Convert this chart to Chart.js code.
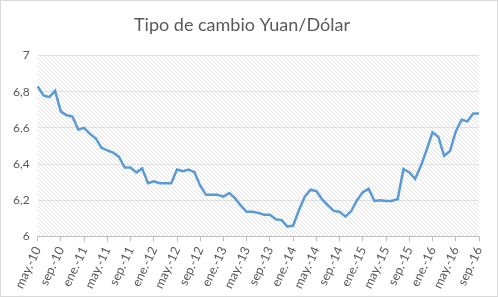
<!DOCTYPE html>
<html>
<head>
<meta charset="utf-8">
<script src="https://cdn.jsdelivr.net/npm/chart.js@4.4.1/dist/chart.umd.min.js"></script>
<style>
  html, body { margin: 0; padding: 0; background: #fff; }
  #wrap { position: relative; width: 496px; height: 295px; border: 1px solid #d9d9d9; }
</style>
</head>
<body>
<div id="wrap"><canvas id="grafico"></canvas></div>
<script>
// datos mensuales, may-10 a sep-16
var MESES = ['ene', 'feb', 'mar', 'abr', 'may', 'jun', 'jul', 'ago', 'sep', 'oct', 'nov', 'dic'];
var INICIO = { mes: 4, anio: 10 };   // may.-10
var TITULO = 'Tipo de cambio Yuan/Dólar';

var TIPO_CAMBIO = [
  6.83, 6.78, 6.77, 6.805, 6.69, 6.67, 6.663, 6.59, 6.60, 6.567, 6.542, 6.49,
  6.476, 6.463, 6.44, 6.381, 6.381, 6.354, 6.376, 6.294, 6.305, 6.294, 6.294, 6.294,
  6.37, 6.36, 6.37, 6.355, 6.28, 6.23, 6.23, 6.23, 6.22, 6.24, 6.21, 6.17,
  6.136, 6.136, 6.13, 6.12, 6.12, 6.095, 6.09, 6.054, 6.06, 6.145, 6.22, 6.258,
  6.25, 6.205, 6.172, 6.141, 6.136, 6.109, 6.14, 6.20, 6.245, 6.263, 6.196, 6.20,
  6.196, 6.196, 6.207, 6.373, 6.354, 6.318, 6.39, 6.48, 6.576, 6.55, 6.445, 6.472,
  6.58, 6.645, 6.636, 6.68, 6.68
];

var Y_MIN = 6;
var Y_MAX = 7;
var Y_PASO = 0.2;

var etiquetas = [];
for (var i = 0; i < TIPO_CAMBIO.length; i++) {
  var m = (INICIO.mes + i) % 12;
  var a = INICIO.anio + Math.floor((INICIO.mes + i) / 12);
  etiquetas.push(MESES[m] + '.-' + a);
}

// fondo rayado del area de trazado
function patronRayado(ctx) {
  var c = document.createElement('canvas');
  c.width = 4; c.height = 4;
  var p = c.getContext('2d');
  p.strokeStyle = '#e2e2e2';
  p.lineWidth = 1;
  p.beginPath();
  p.moveTo(0, 0); p.lineTo(4, 4);
  p.moveTo(-1, 3); p.lineTo(1, 5);
  p.moveTo(3, -1); p.lineTo(5, 1);
  p.stroke();
  return ctx.createPattern(c, 'repeat');
}

var fondo = {
  id: 'fondo',
  beforeDraw: function(chart) {
    var a = chart.chartArea;
    var ctx = chart.ctx;
    ctx.save();
    ctx.fillStyle = patronRayado(ctx);
    ctx.fillRect(a.left, a.top, a.right - a.left, a.bottom - a.top);
    ctx.restore();
  }
};

var gris = '#595959';

var grafico = new Chart(document.getElementById('grafico').getContext('2d'), {
  type: 'line',
  data: {
    labels: etiquetas,
    datasets: [{
      label: 'Yuan/Dólar',
      data: TIPO_CAMBIO,
      borderColor: '#5b9bd5',
      borderWidth: 2.5,
      pointRadius: 0,
      tension: 0,
      fill: false
    }]
  },
  options: {
    responsive: true,
    maintainAspectRatio: false,
    animation: false,
    layout: { padding: { left: 4, right: 18, top: 9, bottom: 2 } },
    plugins: {
      legend: { display: false },
      tooltip: { enabled: false },
      title: {
        display: true,
        text: TITULO,
        color: gris,
        font: { family: 'Lato, "Open Sans", sans-serif', size: 18, weight: 'normal' },
        padding: { top: 4, bottom: 20 }
      }
    },
    scales: {
      x: {
        offset: false,
        grid: {
          drawOnChartArea: false,
          tickLength: 5,
          color: function(c) { return c.index % 4 === 0 ? '#bfbfbf' : 'rgba(0,0,0,0)'; }
        },
        border: { color: '#bfbfbf' },
        ticks: {
          autoSkip: false,
          maxRotation: 65,
          minRotation: 65,
          color: gris,
          font: { family: 'Lato, "Open Sans", sans-serif', size: 12.5 },
          callback: function(v, i) { return i % 4 === 0 ? this.getLabelForValue(v) : ''; }
        }
      },
      y: {
        min: Y_MIN,
        max: Y_MAX,
        grid: { color: '#e0e0e0', drawTicks: false },
        border: { display: false },
        ticks: {
          stepSize: Y_PASO,
          padding: 8,
          color: gris,
          font: { family: 'Lato, "Open Sans", sans-serif', size: 12 },
          callback: function(v) { return Math.abs(v - Math.round(v)) < 1e-9 ? String(Math.round(v)) : v.toFixed(1).replace('.', ','); }
        }
      }
    }
  },
  plugins: [fondo]
});
</script>
</body>
</html>
